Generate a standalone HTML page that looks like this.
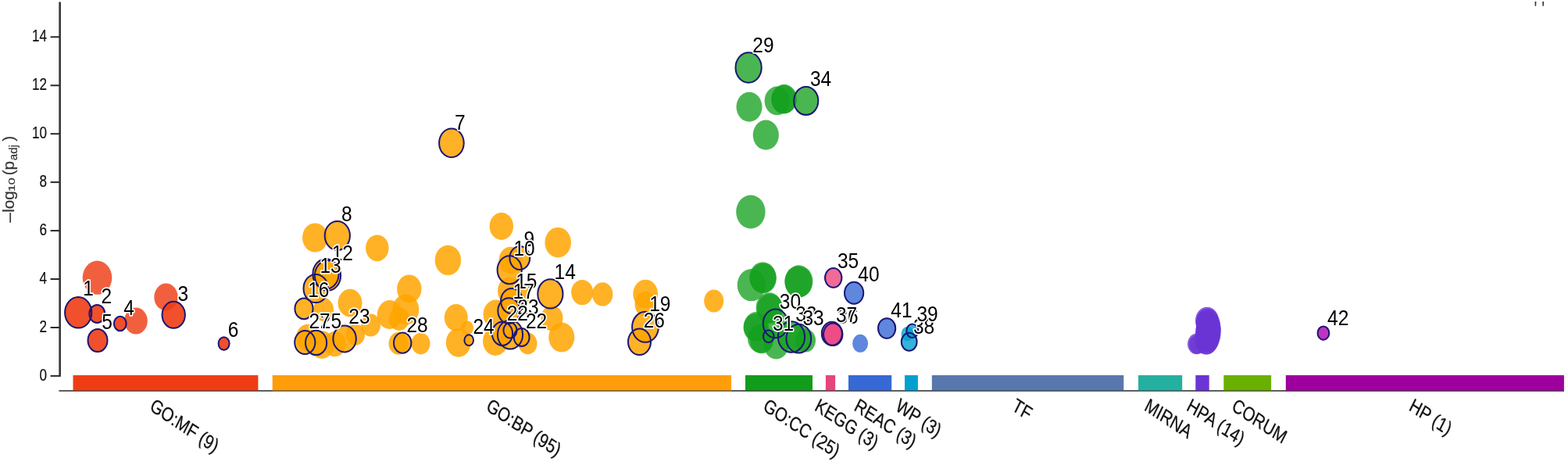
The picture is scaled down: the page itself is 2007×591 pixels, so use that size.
<!DOCTYPE html>
<html lang="en"><head><meta charset="utf-8"><title>Manhattan plot</title>
<style>
html,body{margin:0;padding:0;background:#fff;}
body{width:2007px;height:591px;overflow:hidden;}
svg{display:block;font-family:"Liberation Sans",sans-serif;}
.tick{font-size:19px;fill:#111;stroke:#111;stroke-width:0.2px;text-anchor:end;}
.cat{font-size:22px;fill:#111;stroke:#111;stroke-width:0.25px;}
.ttl{fill:#333;stroke:#333;stroke-width:0.2px;}
.lab{font-size:25px;fill:#000;stroke:#fff;stroke-width:3px;stroke-linejoin:round;paint-order:stroke fill;}
.u{fill-opacity:0.8;}
.o{fill:none;stroke:#1b1676;stroke-width:2px;}
</style></head><body>
<svg width="2007" height="591" viewBox="0 0 2007 591">
<rect x="0" y="0" width="2007" height="591" fill="#fff"/>
<text transform="translate(1963.6,19.5) scale(0.93,1.15)" font-size="22px" fill="#333" xml:space="preserve">' '</text>
<rect x="93.5" y="480" width="236.9" height="19.6" fill="#ee3d14"/>
<rect x="348.7" y="480" width="587.3" height="19.6" fill="#ff9d0a"/>
<rect x="954.0" y="480" width="86.0" height="19.6" fill="#129c1c"/>
<rect x="1056.9" y="480" width="12.2" height="19.6" fill="#e5467c"/>
<rect x="1086.0" y="480" width="55.2" height="19.6" fill="#3669d4"/>
<rect x="1158.0" y="480" width="16.9" height="19.6" fill="#02a0cf"/>
<rect x="1192.8" y="480" width="245.5" height="19.6" fill="#5878ad"/>
<rect x="1457.0" y="480" width="56.2" height="19.6" fill="#24b09f"/>
<rect x="1530.3" y="480" width="17.4" height="19.6" fill="#6a35d4"/>
<rect x="1566.3" y="480" width="60.8" height="19.6" fill="#6ab000"/>
<rect x="1645.8" y="480" width="356.1" height="19.6" fill="#9e009e"/>
<rect x="75.3" y="2.5" width="2.7" height="479.4" fill="#3c3c3c"/>
<rect x="75.4" y="499.2" width="1926.6" height="1.5" fill="#2a2a2a"/>
<rect x="93.5" y="499.2" width="236.9" height="1.5" fill="#ee3d14" fill-opacity="0.45"/>
<rect x="348.7" y="499.2" width="587.3" height="1.5" fill="#ff9d0a" fill-opacity="0.45"/>
<rect x="954.0" y="499.2" width="86.0" height="1.5" fill="#129c1c" fill-opacity="0.45"/>
<rect x="1056.9" y="499.2" width="12.2" height="1.5" fill="#e5467c" fill-opacity="0.45"/>
<rect x="1086.0" y="499.2" width="55.2" height="1.5" fill="#3669d4" fill-opacity="0.45"/>
<rect x="1158.0" y="499.2" width="16.9" height="1.5" fill="#02a0cf" fill-opacity="0.45"/>
<rect x="1192.8" y="499.2" width="245.5" height="1.5" fill="#5878ad" fill-opacity="0.45"/>
<rect x="1457.0" y="499.2" width="56.2" height="1.5" fill="#24b09f" fill-opacity="0.45"/>
<rect x="1530.3" y="499.2" width="17.4" height="1.5" fill="#6a35d4" fill-opacity="0.45"/>
<rect x="1566.3" y="499.2" width="60.8" height="1.5" fill="#6ab000" fill-opacity="0.45"/>
<rect x="1645.8" y="499.2" width="356.1" height="1.5" fill="#9e009e" fill-opacity="0.45"/>
<rect x="64.6" y="479.9" width="11.5" height="2" fill="#2a2a2a"/>
<text class="tick" transform="translate(60,487.0) scale(0.9,1.19)">0</text>
<rect x="64.6" y="418.0" width="11.5" height="2" fill="#2a2a2a"/>
<text class="tick" transform="translate(60,425.1) scale(0.9,1.19)">2</text>
<rect x="64.6" y="356.0" width="11.5" height="2" fill="#2a2a2a"/>
<text class="tick" transform="translate(60,363.1) scale(0.9,1.19)">4</text>
<rect x="64.6" y="294.1" width="11.5" height="2" fill="#2a2a2a"/>
<text class="tick" transform="translate(60,301.2) scale(0.9,1.19)">6</text>
<rect x="64.6" y="232.1" width="11.5" height="2" fill="#2a2a2a"/>
<text class="tick" transform="translate(60,239.2) scale(0.9,1.19)">8</text>
<rect x="64.6" y="170.2" width="11.5" height="2" fill="#2a2a2a"/>
<text class="tick" transform="translate(60,177.3) scale(0.9,1.19)">10</text>
<rect x="64.6" y="108.3" width="11.5" height="2" fill="#2a2a2a"/>
<text class="tick" transform="translate(60,115.4) scale(0.9,1.19)">12</text>
<rect x="64.6" y="46.3" width="11.5" height="2" fill="#2a2a2a"/>
<text class="tick" transform="translate(60,53.4) scale(0.9,1.19)">14</text>
<text class="ttl" font-size="21px" transform="translate(20.3,286.0) rotate(-90) scale(1.22,1)">−</text>
<text class="ttl" font-size="21px" transform="translate(18.3,271.8) rotate(-90) scale(0.98,1)">log</text>
<text class="ttl" font-size="10.6px" transform="translate(18.6,245.0) rotate(-90) scale(1.5,1)">10</text>
<text class="ttl" font-size="21px" transform="translate(18.3,224.3) rotate(-90) scale(0.98,1)">(p</text>
<text class="ttl" font-size="15px" transform="translate(21.8,205.2) rotate(-90) scale(1,1)">adj</text>
<text class="ttl" font-size="21px" transform="translate(18.3,180.8) rotate(-90) scale(0.98,1)">)</text>
<text class="cat" transform="translate(190.4,524) scale(1,1.15) rotate(30) scale(0.925,1)">GO:MF (9)</text>
<text class="cat" transform="translate(620.9,524) scale(1,1.15) rotate(30) scale(0.925,1)">GO:BP (95)</text>
<text class="cat" transform="translate(975.5,524) scale(1,1.15) rotate(30) scale(0.925,1)">GO:CC (25)</text>
<text class="cat" transform="translate(1041.5,524) scale(1,1.15) rotate(30) scale(0.925,1)">KEGG (3)</text>
<text class="cat" transform="translate(1092.1,524) scale(1,1.15) rotate(30) scale(0.925,1)">REAC (3)</text>
<text class="cat" transform="translate(1145.0,524) scale(1,1.15) rotate(30) scale(0.925,1)">WP (3)</text>
<text class="cat" transform="translate(1294.0,524) scale(1,1.15) rotate(30) scale(0.925,1)">TF</text>
<text class="cat" transform="translate(1463.6,524) scale(1,1.15) rotate(30) scale(0.925,1)">MIRNA</text>
<text class="cat" transform="translate(1517.5,524) scale(1,1.15) rotate(30) scale(0.925,1)">HPA (14)</text>
<text class="cat" transform="translate(1575.2,524) scale(1,1.15) rotate(30) scale(0.925,1)">CORUM</text>
<text class="cat" transform="translate(1802.3,524) scale(1,1.15) rotate(30) scale(0.925,1)">HP (1)</text>
<ellipse cx="124.5" cy="355.2" rx="18.8" ry="21.6" fill="#ee3d14" fill-opacity="0.82"/>
<ellipse cx="174.0" cy="410.6" rx="14.8" ry="17.0" fill="#ee3d14" fill-opacity="0.82"/>
<ellipse cx="212.5" cy="380.0" rx="15.2" ry="17.5" fill="#ee3d14" fill-opacity="0.82"/>
<ellipse cx="403.2" cy="304.0" rx="16.2" ry="18.6" fill="#ffa400" fill-opacity="0.85"/>
<ellipse cx="482.8" cy="317.3" rx="14.7" ry="16.9" fill="#ffa400" fill-opacity="0.85"/>
<ellipse cx="573.4" cy="332.9" rx="16.7" ry="19.2" fill="#ffa400" fill-opacity="0.85"/>
<ellipse cx="641.8" cy="289.4" rx="15.2" ry="17.5" fill="#ffa400" fill-opacity="0.85"/>
<ellipse cx="714.2" cy="310.2" rx="16.8" ry="19.3" fill="#ffa400" fill-opacity="0.85"/>
<ellipse cx="523.8" cy="369.5" rx="15.7" ry="18.1" fill="#ffa400" fill-opacity="0.85"/>
<ellipse cx="448.0" cy="387.5" rx="15.5" ry="17.8" fill="#ffa400" fill-opacity="0.85"/>
<ellipse cx="498.8" cy="402.5" rx="16.0" ry="18.4" fill="#ffa400" fill-opacity="0.85"/>
<ellipse cx="511.0" cy="408.0" rx="13.0" ry="14.9" fill="#ffa400" fill-opacity="0.85"/>
<ellipse cx="598.0" cy="419.5" rx="8.0" ry="9.2" fill="#ffa400" fill-opacity="0.85"/>
<ellipse cx="519.3" cy="396.0" rx="17.0" ry="19.5" fill="#ffa400" fill-opacity="0.85"/>
<ellipse cx="474.5" cy="416.0" rx="12.5" ry="14.4" fill="#ffa400" fill-opacity="0.85"/>
<ellipse cx="510.0" cy="439.4" rx="12.5" ry="14.4" fill="#ffa400" fill-opacity="0.85"/>
<ellipse cx="538.5" cy="439.6" rx="12.0" ry="13.8" fill="#ffa400" fill-opacity="0.85"/>
<ellipse cx="583.8" cy="406.3" rx="15.0" ry="17.2" fill="#ffa400" fill-opacity="0.85"/>
<ellipse cx="586.8" cy="438.3" rx="16.0" ry="18.4" fill="#ffa400" fill-opacity="0.85"/>
<ellipse cx="634.5" cy="402.0" rx="16.0" ry="18.4" fill="#ffa400" fill-opacity="0.85"/>
<ellipse cx="634.0" cy="436.5" rx="16.0" ry="18.4" fill="#ffa400" fill-opacity="0.85"/>
<ellipse cx="675.5" cy="439.4" rx="12.0" ry="13.8" fill="#ffa400" fill-opacity="0.85"/>
<ellipse cx="653.5" cy="333.0" rx="15.0" ry="17.2" fill="#ffa400" fill-opacity="0.85"/>
<ellipse cx="652.0" cy="372.0" rx="15.0" ry="17.2" fill="#ffa400" fill-opacity="0.85"/>
<ellipse cx="664.5" cy="378.0" rx="13.5" ry="15.5" fill="#ffa400" fill-opacity="0.85"/>
<ellipse cx="706.5" cy="407.0" rx="14.0" ry="16.1" fill="#ffa400" fill-opacity="0.85"/>
<ellipse cx="718.8" cy="431.5" rx="16.5" ry="19.0" fill="#ffa400" fill-opacity="0.85"/>
<ellipse cx="745.2" cy="374.0" rx="14.0" ry="16.1" fill="#ffa400" fill-opacity="0.85"/>
<ellipse cx="771.2" cy="376.4" rx="13.2" ry="15.2" fill="#ffa400" fill-opacity="0.85"/>
<ellipse cx="826.2" cy="376.0" rx="15.9" ry="18.3" fill="#ffa400" fill-opacity="0.85"/>
<ellipse cx="826.5" cy="389.0" rx="14.0" ry="16.1" fill="#ffa400" fill-opacity="0.85"/>
<ellipse cx="913.7" cy="385.0" rx="12.5" ry="14.4" fill="#ffa400" fill-opacity="0.85"/>
<ellipse cx="394.0" cy="432.0" rx="15.0" ry="17.2" fill="#ffa400" fill-opacity="0.85"/>
<ellipse cx="412.0" cy="441.0" rx="15.5" ry="17.8" fill="#ffa400" fill-opacity="0.85"/>
<ellipse cx="428.5" cy="440.0" rx="14.0" ry="16.1" fill="#ffa400" fill-opacity="0.85"/>
<ellipse cx="414.0" cy="396.0" rx="13.0" ry="14.9" fill="#ffa400" fill-opacity="0.85"/>
<ellipse cx="455.0" cy="428.0" rx="12.0" ry="13.8" fill="#ffa400" fill-opacity="0.85"/>
<ellipse cx="959.0" cy="136.7" rx="16.5" ry="19.0" fill="#14a01e" fill-opacity="0.77"/>
<ellipse cx="994.6" cy="128.9" rx="16.0" ry="18.4" fill="#14a01e" fill-opacity="0.77"/>
<ellipse cx="1003.8" cy="126.6" rx="16.2" ry="18.6" fill="#14a01e" fill-opacity="0.77"/>
<ellipse cx="1003.2" cy="127.2" rx="16.0" ry="18.4" fill="#14a01e" fill-opacity="0.77"/>
<ellipse cx="980.3" cy="172.7" rx="16.6" ry="19.1" fill="#14a01e" fill-opacity="0.77"/>
<ellipse cx="960.9" cy="271.0" rx="18.7" ry="21.5" fill="#14a01e" fill-opacity="0.77"/>
<ellipse cx="961.7" cy="364.6" rx="18.0" ry="20.7" fill="#14a01e" fill-opacity="0.77"/>
<ellipse cx="976.3" cy="355.0" rx="17.2" ry="19.8" fill="#14a01e" fill-opacity="0.77"/>
<ellipse cx="977.0" cy="356.0" rx="16.8" ry="19.3" fill="#14a01e" fill-opacity="0.77"/>
<ellipse cx="1022.4" cy="360.0" rx="18.0" ry="20.7" fill="#14a01e" fill-opacity="0.77"/>
<ellipse cx="1022.0" cy="360.5" rx="17.5" ry="20.1" fill="#14a01e" fill-opacity="0.77"/>
<ellipse cx="984.6" cy="393.8" rx="17.0" ry="19.5" fill="#14a01e" fill-opacity="0.77"/>
<ellipse cx="985.5" cy="395.0" rx="16.5" ry="19.0" fill="#14a01e" fill-opacity="0.77"/>
<ellipse cx="967.0" cy="419.0" rx="15.5" ry="17.8" fill="#14a01e" fill-opacity="0.77"/>
<ellipse cx="975.0" cy="435.0" rx="15.0" ry="17.2" fill="#14a01e" fill-opacity="0.77"/>
<ellipse cx="968.0" cy="417.5" rx="16.0" ry="18.4" fill="#14a01e" fill-opacity="0.77"/>
<ellipse cx="973.0" cy="433.0" rx="16.0" ry="18.4" fill="#14a01e" fill-opacity="0.77"/>
<ellipse cx="993.5" cy="441.0" rx="16.0" ry="18.4" fill="#14a01e" fill-opacity="0.77"/>
<ellipse cx="1031.0" cy="435.6" rx="13.0" ry="14.9" fill="#14a01e" fill-opacity="0.77"/>
<ellipse cx="1101.1" cy="439.3" rx="10.0" ry="11.5" fill="#3669d4" fill-opacity="0.8"/>
<ellipse cx="1161.5" cy="427.0" rx="8.0" ry="9.2" fill="#02a0cf" fill-opacity="0.8"/>
<ellipse cx="1545.0" cy="410.0" rx="15.0" ry="17.2" fill="#6a35d4" fill-opacity="0.8"/>
<ellipse cx="1546.5" cy="416.0" rx="15.5" ry="17.8" fill="#6a35d4" fill-opacity="0.8"/>
<ellipse cx="1547.0" cy="422.0" rx="16.0" ry="18.4" fill="#6a35d4" fill-opacity="0.8"/>
<ellipse cx="1546.5" cy="428.0" rx="16.0" ry="18.4" fill="#6a35d4" fill-opacity="0.8"/>
<ellipse cx="1545.5" cy="433.0" rx="15.5" ry="17.8" fill="#6a35d4" fill-opacity="0.8"/>
<ellipse cx="1544.0" cy="437.0" rx="14.5" ry="16.7" fill="#6a35d4" fill-opacity="0.8"/>
<ellipse cx="1531.5" cy="440.0" rx="11.5" ry="13.2" fill="#6a35d4" fill-opacity="0.8"/>
<ellipse cx="1545.5" cy="411.5" rx="14.5" ry="16.7" fill="#6a35d4" fill-opacity="0.8"/>
<ellipse cx="1546.0" cy="414.0" rx="15.3" ry="17.6" fill="#6a35d4" fill-opacity="0.8"/>
<ellipse cx="1546.5" cy="420.0" rx="15.8" ry="18.2" fill="#6a35d4" fill-opacity="0.8"/>
<ellipse cx="1546.0" cy="425.0" rx="16.0" ry="18.4" fill="#6a35d4" fill-opacity="0.8"/>
<ellipse cx="1545.0" cy="431.0" rx="15.5" ry="17.8" fill="#6a35d4" fill-opacity="0.8"/>
<ellipse cx="1544.5" cy="436.0" rx="14.8" ry="17.0" fill="#6a35d4" fill-opacity="0.8"/>
<ellipse cx="1532.5" cy="440.5" rx="10.5" ry="12.1" fill="#6a35d4" fill-opacity="0.8"/>
<ellipse cx="100.2" cy="399.8" rx="17.6" ry="20.3" fill="#ee3d14" fill-opacity="0.9"/>
<ellipse cx="124.3" cy="401.4" rx="10.4" ry="12.0" fill="#ee3d14" fill-opacity="0.9"/>
<ellipse cx="222.2" cy="402.8" rx="15.2" ry="17.5" fill="#ee3d14" fill-opacity="0.9"/>
<ellipse cx="153.8" cy="414.0" rx="8.4" ry="9.7" fill="#ee3d14" fill-opacity="0.9"/>
<ellipse cx="125.0" cy="435.5" rx="13.0" ry="15.0" fill="#ee3d14" fill-opacity="0.9"/>
<ellipse cx="286.6" cy="439.5" rx="7.6" ry="8.8" fill="#ee3d14" fill-opacity="0.9"/>
<ellipse cx="577.9" cy="182.9" rx="16.3" ry="18.8" fill="#ffa400" fill-opacity="0.85"/>
<ellipse cx="431.8" cy="301.5" rx="16.6" ry="19.1" fill="#ffa400" fill-opacity="0.85"/>
<ellipse cx="665.3" cy="330.0" rx="13.4" ry="15.5" fill="#ffa400" fill-opacity="0.85"/>
<ellipse cx="652.2" cy="345.3" rx="16.1" ry="18.6" fill="#ffa400" fill-opacity="0.85"/>
<ellipse cx="417.0" cy="350.5" rx="17.1" ry="19.7" fill="#ffa400" fill-opacity="0.85"/>
<ellipse cx="419.5" cy="352.5" rx="17.1" ry="19.7" fill="#ffa400" fill-opacity="0.85"/>
<ellipse cx="404.2" cy="369.0" rx="16.2" ry="18.7" fill="#ffa400" fill-opacity="0.85"/>
<ellipse cx="704.4" cy="375.9" rx="16.6" ry="19.1" fill="#ffa400" fill-opacity="0.85"/>
<ellipse cx="655.0" cy="385.1" rx="14.4" ry="16.6" fill="#ffa400" fill-opacity="0.85"/>
<ellipse cx="389.0" cy="394.8" rx="12.1" ry="14.0" fill="#ffa400" fill-opacity="0.85"/>
<ellipse cx="651.4" cy="397.6" rx="14.6" ry="16.9" fill="#ffa400" fill-opacity="0.85"/>
<ellipse cx="826.0" cy="418.3" rx="17.4" ry="20.1" fill="#ffa400" fill-opacity="0.85"/>
<ellipse cx="653.0" cy="428.0" rx="16.6" ry="19.1" fill="#ffa400" fill-opacity="0.85"/>
<ellipse cx="653.0" cy="422.6" rx="9.1" ry="10.5" fill="#ffa400" fill-opacity="0.85"/>
<ellipse cx="643.0" cy="426.8" rx="13.6" ry="15.7" fill="#ffa400" fill-opacity="0.85"/>
<ellipse cx="667.7" cy="431.4" rx="10.4" ry="12.0" fill="#ffa400" fill-opacity="0.85"/>
<ellipse cx="441.1" cy="433.4" rx="15.2" ry="17.5" fill="#ffa400" fill-opacity="0.85"/>
<ellipse cx="600.2" cy="435.2" rx="6.4" ry="7.4" fill="#ffa400" fill-opacity="0.85"/>
<ellipse cx="404.6" cy="438.4" rx="14.1" ry="16.3" fill="#ffa400" fill-opacity="0.85"/>
<ellipse cx="818.5" cy="437.3" rx="15.0" ry="17.3" fill="#ffa400" fill-opacity="0.85"/>
<ellipse cx="390.3" cy="438.0" rx="13.6" ry="15.7" fill="#ffa400" fill-opacity="0.85"/>
<ellipse cx="515.2" cy="438.7" rx="11.8" ry="13.6" fill="#ffa400" fill-opacity="0.85"/>
<ellipse cx="958.1" cy="86.5" rx="17.1" ry="19.7" fill="#14a01e" fill-opacity="0.77"/>
<ellipse cx="992.6" cy="413.8" rx="16.4" ry="18.9" fill="#14a01e" fill-opacity="0.77"/>
<ellipse cx="983.8" cy="430.2" rx="7.3" ry="8.5" fill="#14a01e" fill-opacity="0.77"/>
<ellipse cx="1013.0" cy="431.0" rx="17.6" ry="20.3" fill="#14a01e" fill-opacity="0.77"/>
<ellipse cx="1022.3" cy="433.2" rx="16.4" ry="18.9" fill="#14a01e" fill-opacity="0.77"/>
<ellipse cx="1031.7" cy="129.0" rx="16.1" ry="18.6" fill="#14a01e" fill-opacity="0.77"/>
<ellipse cx="1066.7" cy="355.3" rx="11.2" ry="12.9" fill="#ee4580" fill-opacity="0.8"/>
<ellipse cx="1066.2" cy="427.8" rx="12.8" ry="14.8" fill="#ee4580" fill-opacity="0.8"/>
<ellipse cx="1064.8" cy="426.8" rx="13.5" ry="15.6" fill="#ee4580" fill-opacity="0.8"/>
<ellipse cx="1163.7" cy="437.2" rx="10.4" ry="12.0" fill="#02a0cf" fill-opacity="0.8"/>
<ellipse cx="1167.8" cy="423.3" rx="8.1" ry="9.4" fill="#02a0cf" fill-opacity="0.8"/>
<ellipse cx="1093.1" cy="374.7" rx="12.6" ry="14.5" fill="#3669d4" fill-opacity="0.8"/>
<ellipse cx="1135.1" cy="420.0" rx="11.6" ry="13.4" fill="#3669d4" fill-opacity="0.8"/>
<ellipse cx="1693.9" cy="426.1" rx="7.9" ry="9.1" fill="#b000b0" fill-opacity="0.8"/>
<ellipse class="o" cx="100.2" cy="399.8" rx="17.1" ry="19.8"/>
<ellipse class="o" cx="124.3" cy="401.4" rx="9.9" ry="11.5"/>
<ellipse class="o" cx="222.2" cy="402.8" rx="14.7" ry="17.0"/>
<ellipse class="o" cx="153.8" cy="414.0" rx="7.9" ry="9.2"/>
<ellipse class="o" cx="125.0" cy="435.5" rx="12.5" ry="14.5"/>
<ellipse class="o" cx="286.6" cy="439.5" rx="7.0" ry="8.2"/>
<ellipse class="o" cx="577.9" cy="182.9" rx="15.8" ry="18.3"/>
<ellipse class="o" cx="431.8" cy="301.5" rx="16.1" ry="18.6"/>
<ellipse class="o" cx="665.3" cy="330.0" rx="12.9" ry="14.9"/>
<ellipse class="o" cx="652.2" cy="345.3" rx="15.6" ry="18.0"/>
<ellipse class="o" cx="417.0" cy="350.5" rx="16.6" ry="19.2"/>
<ellipse class="o" cx="419.5" cy="352.5" rx="16.6" ry="19.2"/>
<ellipse class="o" cx="404.2" cy="369.0" rx="15.7" ry="18.1"/>
<ellipse class="o" cx="704.4" cy="375.9" rx="16.1" ry="18.6"/>
<ellipse class="o" cx="655.0" cy="385.1" rx="13.9" ry="16.1"/>
<ellipse class="o" cx="389.0" cy="394.8" rx="11.6" ry="13.4"/>
<ellipse class="o" cx="651.4" cy="397.6" rx="14.1" ry="16.3"/>
<ellipse class="o" cx="826.0" cy="418.3" rx="16.9" ry="19.5"/>
<ellipse class="o" cx="653.0" cy="428.0" rx="16.1" ry="18.6"/>
<ellipse class="o" cx="653.0" cy="422.6" rx="8.6" ry="10.0"/>
<ellipse class="o" cx="643.0" cy="426.8" rx="13.1" ry="15.1"/>
<ellipse class="o" cx="667.7" cy="431.4" rx="9.9" ry="11.5"/>
<ellipse class="o" cx="441.1" cy="433.4" rx="14.7" ry="17.0"/>
<ellipse class="o" cx="600.2" cy="435.2" rx="5.8" ry="6.9"/>
<ellipse class="o" cx="404.6" cy="438.4" rx="13.6" ry="15.7"/>
<ellipse class="o" cx="818.5" cy="437.3" rx="14.5" ry="16.8"/>
<ellipse class="o" cx="390.3" cy="438.0" rx="13.1" ry="15.1"/>
<ellipse class="o" cx="515.2" cy="438.7" rx="11.2" ry="13.1"/>
<ellipse class="o" cx="958.1" cy="86.5" rx="16.6" ry="19.2"/>
<ellipse class="o" cx="992.6" cy="413.8" rx="15.9" ry="18.4"/>
<ellipse class="o" cx="983.8" cy="430.2" rx="6.8" ry="7.9"/>
<ellipse class="o" cx="1013.0" cy="431.0" rx="17.1" ry="19.8"/>
<ellipse class="o" cx="1022.3" cy="433.2" rx="15.9" ry="18.4"/>
<ellipse class="o" cx="1031.7" cy="129.0" rx="15.6" ry="18.0"/>
<ellipse class="o" cx="1066.7" cy="355.3" rx="10.7" ry="12.4"/>
<ellipse class="o" cx="1066.2" cy="427.8" rx="12.2" ry="14.2"/>
<ellipse class="o" cx="1064.8" cy="426.8" rx="13.0" ry="15.0"/>
<ellipse class="o" cx="1163.7" cy="437.2" rx="9.9" ry="11.5"/>
<ellipse class="o" cx="1167.8" cy="423.3" rx="7.5" ry="8.8"/>
<ellipse class="o" cx="1093.1" cy="374.7" rx="12.1" ry="14.0"/>
<ellipse class="o" cx="1135.1" cy="420.0" rx="11.1" ry="12.8"/>
<ellipse class="o" cx="1693.9" cy="426.1" rx="7.4" ry="8.6"/>
<text class="lab" transform="translate(106.2,378.2) scale(0.98,1.12)">1</text>
<text class="lab" transform="translate(129.5,387.8) scale(0.98,1.12)">2</text>
<text class="lab" transform="translate(227.4,385.4) scale(0.98,1.12)">3</text>
<text class="lab" transform="translate(158.2,402.9) scale(0.98,1.12)">4</text>
<text class="lab" transform="translate(130.2,420.9) scale(0.98,1.12)">5</text>
<text class="lab" transform="translate(291.8,430.8) scale(0.98,1.12)">6</text>
<text class="lab" transform="translate(581.9,166.2) scale(0.98,1.12)">7</text>
<text class="lab" transform="translate(437.0,282.6) scale(0.98,1.12)">8</text>
<text class="lab" transform="translate(670.5,314.7) scale(0.98,1.12)">9</text>
<text class="lab" transform="translate(657.4,326.9) scale(0.98,1.12)">10</text>
<text class="lab" transform="translate(424.7,333.0) scale(0.98,1.12)">12</text>
<text class="lab" transform="translate(409.4,349.0) scale(0.98,1.12)">13</text>
<text class="lab" transform="translate(709.6,356.9) scale(0.98,1.12)">14</text>
<text class="lab" transform="translate(662.3,401.6) scale(0.98,1.12)">23</text>
<text class="lab" transform="translate(660.2,368.7) scale(0.98,1.12)">15</text>
<text class="lab" transform="translate(394.2,379.8) scale(0.98,1.12)">16</text>
<text class="lab" transform="translate(656.6,382.4) scale(0.98,1.12)">17</text>
<text class="lab" transform="translate(831.2,398.4) scale(0.98,1.12)">19</text>
<text class="lab" transform="translate(648.7,410.3) scale(0.98,1.12)">22</text>
<text class="lab" transform="translate(672.9,419.6) scale(0.98,1.12)">22</text>
<text class="lab" transform="translate(446.3,414.2) scale(0.98,1.12)">23</text>
<text class="lab" transform="translate(605.4,427.0) scale(0.98,1.12)">24</text>
<text class="lab" transform="translate(409.8,420.0) scale(0.98,1.12)">25</text>
<text class="lab" transform="translate(823.7,418.9) scale(0.98,1.12)">26</text>
<text class="lab" transform="translate(395.5,420.2) scale(0.98,1.12)">27</text>
<text class="lab" transform="translate(520.4,425.3) scale(0.98,1.12)">28</text>
<text class="lab" transform="translate(963.3,67.0) scale(0.98,1.12)">29</text>
<text class="lab" transform="translate(997.8,395.1) scale(0.98,1.12)">30</text>
<text class="lab" transform="translate(989.0,422.8) scale(0.98,1.12)">31</text>
<text class="lab" transform="translate(1018.2,410.9) scale(0.98,1.12)">32</text>
<text class="lab" transform="translate(1027.5,415.8) scale(0.98,1.12)">33</text>
<text class="lab" transform="translate(1036.9,109.6) scale(0.98,1.12)">34</text>
<text class="lab" transform="translate(1071.9,342.6) scale(0.98,1.12)">35</text>
<text class="lab" transform="translate(1071.4,414.1) scale(0.98,1.12)">36</text>
<text class="lab" transform="translate(1070.0,412.3) scale(0.98,1.12)">37</text>
<text class="lab" transform="translate(1168.9,426.9) scale(0.98,1.12)">38</text>
<text class="lab" transform="translate(1173.5,411.1) scale(0.98,1.12)">39</text>
<text class="lab" transform="translate(1098.3,360.4) scale(0.98,1.12)">40</text>
<text class="lab" transform="translate(1140.3,405.8) scale(0.98,1.12)">41</text>
<text class="lab" transform="translate(1699.1,416.2) scale(0.98,1.12)">42</text>
</svg>
</body></html>
